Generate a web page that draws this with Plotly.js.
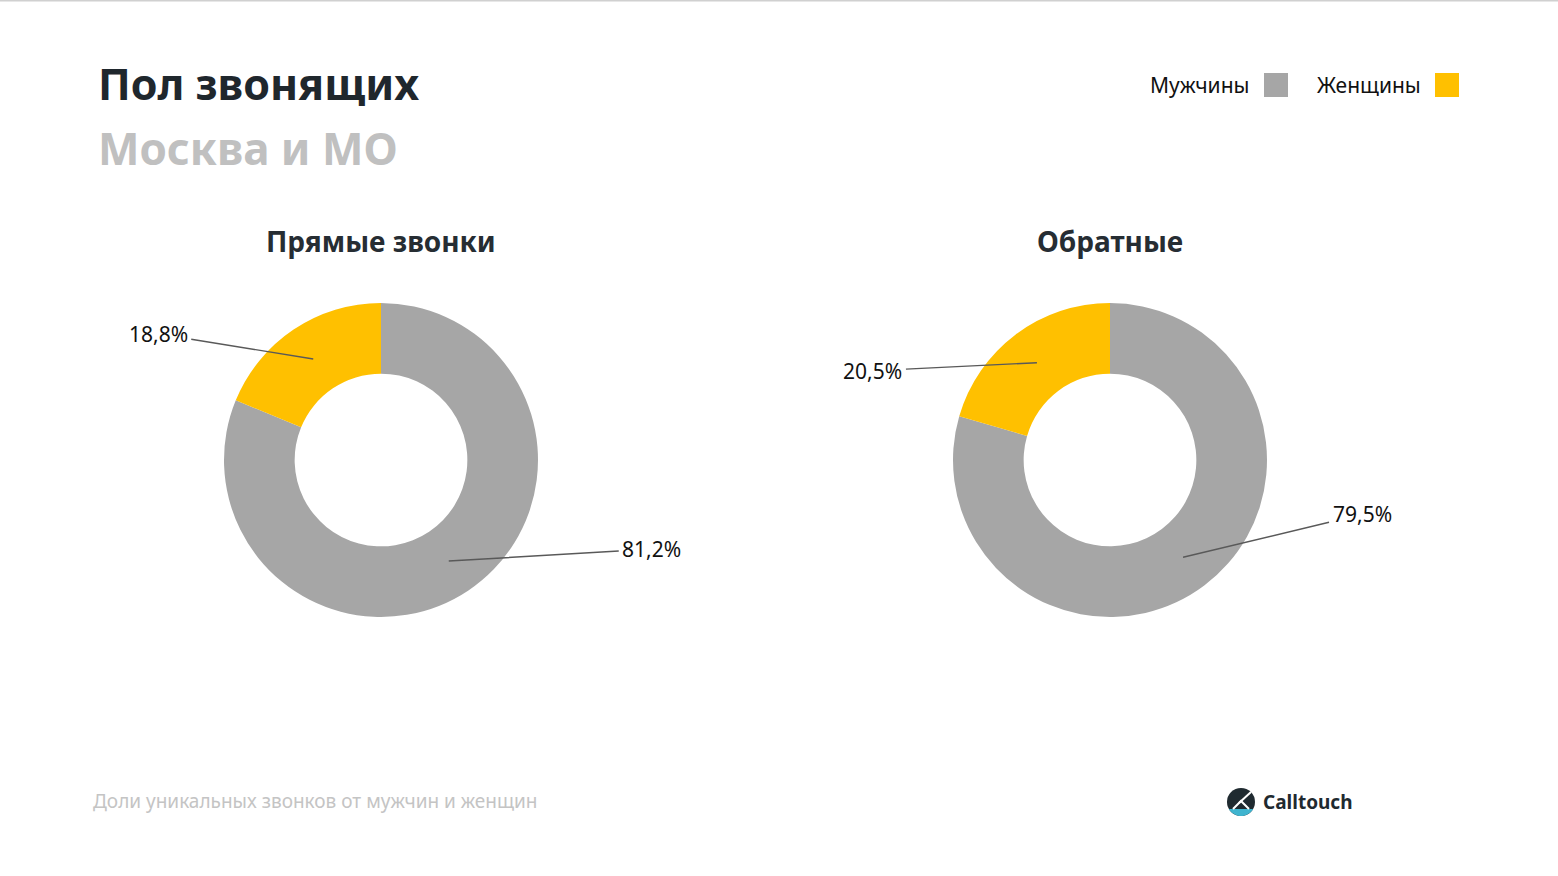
<!DOCTYPE html>
<html>
<head>
<meta charset="utf-8">
<script src="https://cdn.plot.ly/plotly-3.0.1.min.js"></script>
<style>html,body{margin:0;padding:0;background:#fff;}#chart{width:1558px;height:876px;}</style>
</head>
<body>
<div id="chart"></div>
<script>
// ---- data ----
const categories = ["Мужчины", "Женщины"];
const directValues = [81.2, 18.8];
const callbackValues = [79.5, 20.5];
const chartTitles = ["Прямые звонки", "Обратные"];
const colors = ["#a6a6a6", "#ffc000"];

const W = 1558, H = 876;
const px = x => x / W;
const py = y => 1 - y / H;

const FONT = "Noto Sans, Open Sans, DejaVu Sans, sans-serif";

// pie geometry (layout)
const R = 157, HOLE = 0.55;
const centers = [[381, 460], [1110, 460]];
const series = [directValues, callbackValues];
// label offsets (layout, pixels) per pie, per slice
const labelOffsets = [[[203, -12], [-155, -25]], [[179, -43], [-164, 8]]];

const traces = series.map((vals, i) => ({
  type: "pie",
  values: vals,
  labels: categories,
  marker: {colors: colors, line: {width: 0}},
  hole: HOLE,
  sort: false,
  direction: "clockwise",
  rotation: 0,
  textinfo: "none",
  hoverinfo: "label+percent",
  showlegend: false,
  domain: {
    x: [px(centers[i][0] - R), px(centers[i][0] + R)],
    y: [py(centers[i][1] + R), py(centers[i][1] - R)]
  }
}));

const annotations = [];
const shapes = [];

// leader labels computed from data angles
series.forEach((vals, i) => {
  const total = vals.reduce((a, b) => a + b, 0);
  let cum = 0;
  const rMid = R * (1 + HOLE) / 2;
  vals.forEach((v, j) => {
    const midFrac = (cum + v / 2) / total;
    cum += v;
    const ang = midFrac * 2 * Math.PI; // clockwise from top
    const tx = centers[i][0] + Math.sin(ang) * rMid;
    const ty = centers[i][1] - Math.cos(ang) * rMid;
    annotations.push({
      x: px(tx), y: py(ty), xref: "paper", yref: "paper",
      text: v.toFixed(1).replace(".", ",") + "%",
      showarrow: true, arrowhead: 0, arrowwidth: 1.4, arrowcolor: "#595959",
      standoff: 0, borderpad: 3,
      ax: labelOffsets[i][j][0], ay: labelOffsets[i][j][1],
      font: {family: FONT, size: 21, color: "#111"}
    });
  });
  // pie titles
  annotations.push({
    x: px(centers[i][0]), y: py(241), xref: "paper", yref: "paper",
    text: "<b>" + chartTitles[i] + "</b>", showarrow: false,
    xanchor: "center", yanchor: "middle",
    font: {family: FONT, size: 28, color: "#262d33"}
  });
});

// main titles
annotations.push({
  x: px(96), y: py(84), xref: "paper", yref: "paper", xanchor: "left", yanchor: "middle",
  text: "<b>Пол звонящих</b>", showarrow: false,
  font: {family: FONT, size: 43, color: "#1f272d"}
});
annotations.push({
  x: px(96), y: py(148), xref: "paper", yref: "paper", xanchor: "left", yanchor: "middle",
  text: "<b>Москва и МО</b>", showarrow: false,
  font: {family: FONT, size: 44, color: "#c0c0c0"}
});

// legend (text then square)
const legendTextRight = [1252, 1423];
const legendSquareX = [1264, 1435];
categories.forEach((c, k) => {
  annotations.push({
    x: px(legendTextRight[k]), y: py(85), xref: "paper", yref: "paper",
    xanchor: "right", yanchor: "middle", text: c, showarrow: false,
    font: {family: FONT, size: 21, color: "#111"}
  });
  shapes.push({
    type: "rect", xref: "paper", yref: "paper",
    x0: px(legendSquareX[k]), x1: px(legendSquareX[k] + 24),
    y0: py(97), y1: py(73),
    fillcolor: colors[k], line: {width: 0}
  });
});

// footer
annotations.push({
  x: px(91), y: py(801), xref: "paper", yref: "paper", xanchor: "left", yanchor: "middle",
  text: "Доли уникальных звонков от мужчин и женщин", showarrow: false,
  font: {family: FONT, size: 19, color: "#c4c4c4"}
});
annotations.push({
  x: px(1261), y: py(802), xref: "paper", yref: "paper", xanchor: "left", yanchor: "middle",
  text: "<b>Calltouch</b>", showarrow: false,
  font: {family: FONT, size: 19, color: "#1f2a30"}
});

// top rule
shapes.push({type: "line", xref: "paper", yref: "paper", x0: 0, x1: 1, y0: py(0.5), y1: py(0.5),
  line: {color: "#d0d0d0", width: 2}});

// logo icon
const lc = [1241, 802], lr = 14;
shapes.push({type: "circle", xref: "paper", yref: "paper",
  x0: px(lc[0] - lr), x1: px(lc[0] + lr), y0: py(lc[1] + lr), y1: py(lc[1] - lr),
  fillcolor: "#1f2a30", line: {width: 0}});
// teal bottom segment
(function () {
  const yc = 7; // chord offset below center
  const half = Math.sqrt(lr * lr - yc * yc);
  let d = `M ${px(lc[0] - half)} ${py(lc[1] + yc)}`;
  const n = 20;
  const a0 = Math.atan2(yc, -half), a1 = Math.atan2(yc, half);
  for (let k = 0; k <= n; k++) {
    const a = a0 + (a1 - a0) * k / n;
    d += ` L ${px(lc[0] + lr * Math.cos(a))} ${py(lc[1] + lr * Math.sin(a))}`;
  }
  d += " Z";
  shapes.push({type: "path", xref: "paper", yref: "paper", path: d, fillcolor: "#3fb4cf", line: {width: 0}});
  // white triangle marks
  shapes.push({type: "path", xref: "paper", yref: "paper",
    path: `M ${px(lc[0] - 8)} ${py(lc[1] + yc)} L ${px(lc[0])} ${py(lc[1] - 1)} L ${px(lc[0] + 8)} ${py(lc[1] + yc)}`,
    fillcolor: "rgba(0,0,0,0)", line: {color: "#ffffff", width: 2}});
  shapes.push({type: "line", xref: "paper", yref: "paper",
    x0: px(lc[0] - 2), y0: py(lc[1] + 1), x1: px(lc[0] + 10), y1: py(lc[1] - 10),
    line: {color: "#ffffff", width: 2}});
})();

const layout = {
  width: W, height: H,
  margin: {l: 0, r: 0, t: 0, b: 0},
  paper_bgcolor: "#ffffff",
  showlegend: false,
  annotations: annotations,
  shapes: shapes
};

Plotly.newPlot("chart", traces, layout, {displayModeBar: false, staticPlot: true});
</script>
</body>
</html>
